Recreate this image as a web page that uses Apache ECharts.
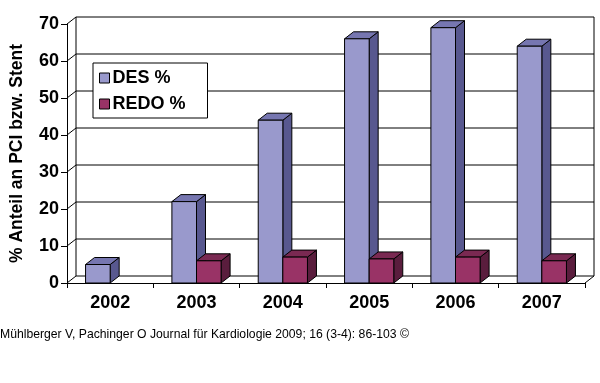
<!DOCTYPE html>
<html><head><meta charset="utf-8">
<script src="https://cdn.jsdelivr.net/npm/echarts@6/dist/echarts.min.js"></script>
<style>html,body{margin:0;padding:0;background:#fff}#c{width:600px;height:383px}</style>
</head><body><div id="c"></div>
<script>
var categories = ['2002','2003','2004','2005','2006','2007'];
var desValues = [5, 22, 44, 66, 69, 64];
var redoValues = [null, 6, 7, 6.5, 7, 6];
var gridValues = [0,10,20,30,40,50,60,70];

var DX = 9, DY = -7;
var chart = echarts.init(document.getElementById('c'), null, {renderer:'canvas'});

function box(x0, x1, yTop, yBot, front, top, side) {
  var line = {stroke:'#000', lineWidth:1};
  return [
    {type:'polygon', shape:{points:[[x1,yBot],[x1+DX,yBot+DY],[x1+DX,yTop+DY],[x1,yTop]]}, style:Object.assign({fill:side}, line)},
    {type:'polygon', shape:{points:[[x0,yTop],[x0+DX,yTop+DY],[x1+DX,yTop+DY],[x1,yTop]]}, style:Object.assign({fill:top}, line)},
    {type:'rect', shape:{x:x0, y:yTop, width:x1-x0, height:yBot-yTop}, style:Object.assign({fill:front}, line)}
  ];
}

function barRenderer(which, colors) {
  return function(params, api) {
    var v = api.value(1);
    if (v == null || isNaN(v)) return;
    var c = api.coord([api.value(0), v]);
    var base = api.coord([api.value(0), 0]);
    var band = api.size([1, 0])[0];
    var w = band * 0.285;
    var x0 = which === 0 ? c[0] - w : c[0];
    var x1 = x0 + w;
    return {type:'group', children: box(x0, x1, c[1], base[1], colors[0], colors[1], colors[2])};
  };
}

var option = {
  animation: false,
  backgroundColor: '#fff',
  textStyle: {fontFamily: 'Liberation Sans, Arial, sans-serif'},
  grid: {left: 63, right: 15, top: 24, bottom: 100, containLabel: false},
  xAxis: {
    type: 'category', data: categories, boundaryGap: true,
    axisLine: {lineStyle: {color:'#000', width:1}},
    axisTick: {show:true, length:5, lineStyle:{color:'#000'}},
    axisLabel: {color:'#000', fontWeight:'bold', fontSize:18, margin:11}
  },
  yAxis: {
    type: 'value', min: 0, max: 70, interval: 10,
    name: '% Anteil an PCI bzw. Stent', nameLocation: 'middle', nameGap: 41,
    nameTextStyle: {color:'#000', fontWeight:'bold', fontSize:17.5},
    axisLine: {show:true, lineStyle:{color:'#000', width:1}},
    axisTick: {show:true, length:6, lineStyle:{color:'#000'}},
    axisLabel: {color:'#000', fontWeight:'bold', fontSize:18, margin:8},
    splitLine: {show:false}
  },
  legend: {
    orient: 'vertical', left: 93, top: 63,
    backgroundColor: '#fff', borderColor: '#000', borderWidth: 1,
    padding: [6, 22, 5, 6], itemGap: 8, itemWidth: 10, itemHeight: 10,
    textStyle: {color:'#000', fontWeight:'bold', fontSize:18, padding:[0,0,0,-2]},
    data: [
      {name:'DES %', icon:'rect', itemStyle:{color:'#9999cc', borderColor:'#000', borderWidth:1}},
      {name:'REDO %', icon:'rect', itemStyle:{color:'#993366', borderColor:'#000', borderWidth:1}}
    ]
  },
  graphic: [{
    type:'text', left: 0, top: 329,
    style:{text:'Mühlberger V, Pachinger O Journal für Kardiologie 2009; 16 (3-4): 86-103 ©', fill:'#000', font:'12.2px "Liberation Sans", Arial, sans-serif'}
  }],
  series: [
    {
      type: 'custom', name: 'frame', silent: true, z: 1,
      data: gridValues.map(function(v){ return [0, v]; }),
      renderItem: function(params, api) {
        var cs = params.coordSys;
        var y = api.coord([0, api.value(1)])[1];
        var xl = cs.x, xr = cs.x + cs.width;
        var children = [{type:'polyline', shape:{points:[[xl,y],[xl+DX,y+DY],[xr+DX,y+DY]]}, style:{stroke:'#000', lineWidth:1, fill:null}}];
        if (params.dataIndex === 0) {
          var yt = cs.y;
          children.push({type:'polyline', shape:{points:[[xl+DX,yt+DY],[xl+DX,y+DY]]}, style:{stroke:'#000', lineWidth:1, fill:null}});
          children.push({type:'polyline', shape:{points:[[xr+DX,yt+DY],[xr+DX,y+DY],[xr,y]]}, style:{stroke:'#000', lineWidth:1, fill:null}});
        }
        return {type:'group', children: children};
      }
    },
    {
      type: 'custom', name: 'DES %', z: 2,
      itemStyle: {color:'#9999cc'},
      data: desValues.map(function(v, i){ return [i, v]; }),
      renderItem: barRenderer(0, ['#9999cc', '#7676b0', '#58588f'])
    },
    {
      type: 'custom', name: 'REDO %', z: 3,
      itemStyle: {color:'#993366'},
      data: redoValues.map(function(v, i){ return [i, v]; }),
      renderItem: barRenderer(1, ['#993366', '#7a2952', '#5a1d3d'])
    }
  ]
};
chart.setOption(option);
</script>
</body></html>
